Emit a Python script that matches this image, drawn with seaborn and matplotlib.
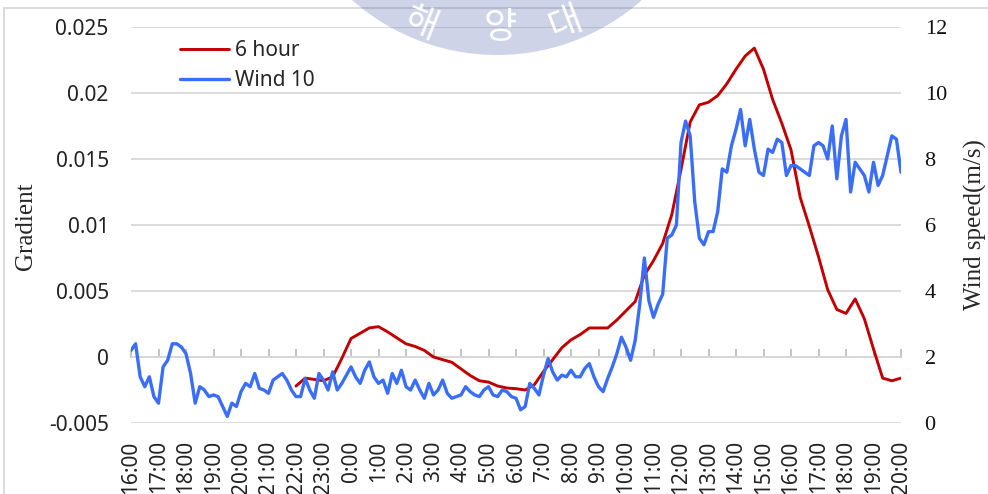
import numpy as np
import pandas as pd
import matplotlib
matplotlib.use("Agg")
import matplotlib.pyplot as plt
from matplotlib.patches import Circle, Rectangle
import seaborn as sns

# Wind 10 (m/s), every 10 minutes from 16:00 to 20:00 next day
wind_10 = [
    2.2, 2.4, 1.4, 1.1, 1.4, 0.8, 0.6, 1.7, 1.9, 2.4, 2.4, 2.3,
    2.1, 1.5, 0.6, 1.1, 1.0, 0.8, 0.85, 0.8, 0.5, 0.2, 0.6, 0.5,
    0.95, 1.2, 1.1, 1.5, 1.05, 1.0, 0.9, 1.3, 1.4, 1.5, 1.3, 1.0,
    0.8, 0.8, 1.35, 1.0, 0.75, 1.5, 1.3, 1.0, 1.55, 1.0, 1.2, 1.45,
    1.7, 1.4, 1.2, 1.6, 1.85, 1.4, 1.2, 1.3, 0.9, 1.5, 1.2, 1.6,
    1.1, 1.0, 1.3, 1.0, 0.75, 1.2, 0.85, 1.0, 1.3, 0.9, 0.75, 0.8,
    0.85, 1.1, 0.95, 0.85, 0.8, 1.0, 1.1, 0.85, 0.8, 1.0, 0.95, 0.8,
    0.75, 0.4, 0.5, 1.2, 1.05, 0.85, 1.45, 1.95, 1.55, 1.3, 1.45, 1.4,
    1.6, 1.4, 1.4, 1.65, 1.8, 1.4, 1.1, 0.95, 1.35, 1.7, 2.1, 2.6,
    2.3, 1.9, 2.5, 3.6, 5.0, 3.7, 3.2, 3.6, 3.9, 5.6, 5.7, 6.0,
    8.5, 9.15, 8.7, 6.7, 5.6, 5.4, 5.8, 5.8, 6.4, 7.7, 7.6, 8.4,
    8.9, 9.5, 8.4, 9.2, 8.3, 7.6, 7.5, 8.3, 8.2, 8.6, 8.5, 7.5,
    7.8, 7.8, 7.7, 7.6, 7.5, 8.4, 8.5, 8.4, 8.0, 9.0, 7.4, 8.7,
    9.2, 7.0, 7.9, 7.7, 7.5, 7.0, 7.9, 7.2, 7.5, 8.1, 8.7, 8.6,
    7.6,
]

# 6 hour gradient, every 20 minutes from 22:00 to 20:00 next day
gradient_6h = [
    -0.0022, -0.0016, -0.0017, -0.0018, -0.0015, -0.0001,
    0.0014, 0.0018, 0.0022, 0.0023, 0.0019, 0.00145,
    0.0010, 0.0008, 0.0005, 0.0000, -0.0002, -0.0004,
    -0.0009, -0.0014, -0.0018, -0.0019, -0.0022, -0.00235,
    -0.0024, -0.0025, -0.0021, -0.0011, -0.0002, 0.0007,
    0.0013, 0.0017, 0.0022, 0.0022, 0.0022, 0.0028,
    0.0035, 0.0042, 0.0062, 0.0073, 0.0086, 0.0108,
    0.0142, 0.0178, 0.0191, 0.0193, 0.0198, 0.0207,
    0.0218, 0.0228, 0.0234, 0.0218, 0.0195, 0.0177,
    0.0157, 0.0121, 0.0099, 0.0076, 0.0051, 0.0036,
    0.0033, 0.0044, 0.0029, 0.0006, -0.0016, -0.0018,
    -0.0016,
]

hour_labels = [f"{(16 + h) % 24}:00" for h in range(29)]
grad_ticks = [-0.005, 0, 0.005, 0.01, 0.015, 0.02, 0.025]
grad_tick_labels = ["-0.005", "0", "0.005", "0.01", "0.015", "0.02", "0.025"]
wind_ticks = [0, 2, 4, 6, 8, 10, 12]

wind_df = pd.DataFrame({"hour": np.arange(len(wind_10)) / 6, "wind": wind_10})
grad_df = pd.DataFrame({"hour": 6 + np.arange(len(gradient_6h)) / 3, "grad": gradient_6h})

sns.set_style("white")
plt.rcParams["font.family"] = ["Noto Sans", "DejaVu Sans"]

fig = plt.figure(figsize=(9.88, 4.94), dpi=100)
ax = fig.add_axes([131 / 988, 71 / 494, 770 / 988, 396 / 494])
ax2 = ax.twinx()

red = "#c00000"
blue = "#3a6ef8"
grid_c = "#d9d9d9"

sns.lineplot(data=grad_df, x="hour", y="grad", ax=ax, color=red, lw=2.1, legend=False)
sns.lineplot(data=wind_df, x="hour", y="wind", ax=ax2, color=blue, lw=2.4, legend=False)

ax.set_xlim(0, 28)
ax.set_ylim(-0.005, 0.025)
ax2.set_ylim(0, 12)

ax.set_yticks(grad_ticks)
ax.set_yticklabels(grad_tick_labels)
ax2.set_yticks(wind_ticks)
ax2.set_yticklabels([str(v) for v in wind_ticks], family="Liberation Serif")

ax.set_xticks(range(29))
ax.set_xticklabels(hour_labels, rotation=90, va="top", ha="center")

ax.grid(axis="y", color=grid_c, lw=1.3)
ax.grid(axis="x", visible=False)
ax2.grid(False)
for a in (ax, ax2):
    for s in a.spines.values():
        s.set_visible(False)
    a.set_xlabel("")
    a.set_ylabel("")

ax.tick_params(axis="y", length=0, pad=16, labelsize=15, labelcolor="#222222")
ax.tick_params(axis="x", length=0, pad=12.5, labelsize=15, labelcolor="#222222")
ax2.tick_params(axis="y", length=0, pad=17, labelsize=16, labelcolor="#111111")

# category axis crossing at gradient = 0, with hour tick marks
sec = ax.secondary_xaxis(1 / 6)
sec.set_xticks(range(29))
sec.set_xticklabels([])
sec.tick_params(direction="in", length=6, width=1.3, color="#bfbfbf", labelbottom=False)
for name, s in sec.spines.items():
    s.set_visible(name == "bottom")
sec.spines["bottom"].set_color("#bfbfbf")
sec.spines["bottom"].set_linewidth(1.3)

handles = [ax.get_lines()[0], ax2.get_lines()[0]]
ax2.legend(handles, ["6 hour", "Wind 10"], loc="upper left",
           bbox_to_anchor=((180 - 131) / 770, (423 - 40) / 396),
           frameon=False, borderpad=0, borderaxespad=0, handlelength=2.35,
           handletextpad=0.3, labelspacing=0.45, fontsize=15)

fig.text(26 / 988, 1 - 226 / 494, "Gradient", rotation=90, ha="center", va="center",
         family="Liberation Serif", fontsize=18)
fig.text(975 / 988, 1 - 225 / 494, "Wind speed(m/s)", rotation=90, ha="center",
         va="center", family="Liberation Serif", fontsize=18)

# outer chart border
fig.add_artist(Rectangle((4 / 988, -0.1), 1.2, (494 - 8) / 494 + 0.1,
                         transform=fig.transFigure, fill=False, edgecolor=grid_c, lw=1.3))

# faded seal watermark at the top
fig.add_artist(Circle((4.97, 6.576), 2.186, transform=fig.dpi_scale_trans,
                      facecolor=(67 / 255, 83 / 255, 163 / 255), alpha=0.25,
                      edgecolor="none", zorder=5))
for ch, x, y, rot in [("해", 421, 24, -22), ("양", 500, 28, 0), ("대", 566, 23, 21)]:
    fig.text(x / 988, 1 - y / 494, ch, color="white", fontsize=26, rotation=rot,
             ha="center", va="center", family="Noto Sans CJK KR", zorder=6)

fig.savefig("out.png", dpi=100)
